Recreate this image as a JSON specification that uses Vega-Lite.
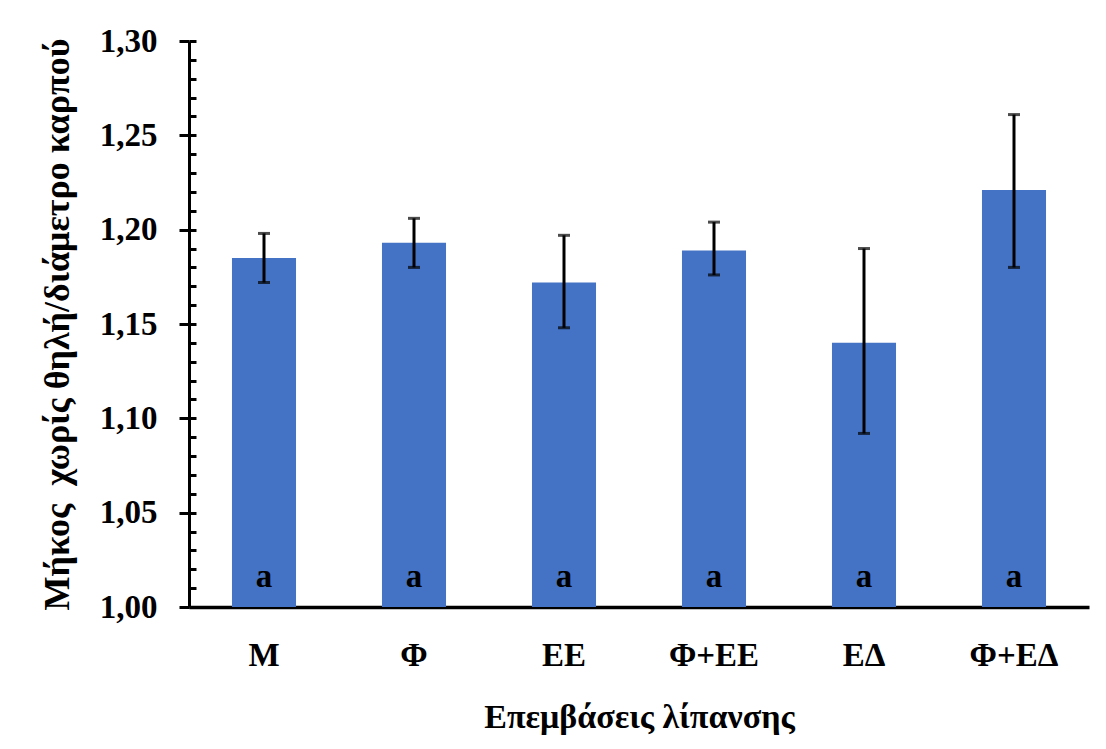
{
  "$schema": "https://vega.github.io/schema/vega-lite/v6.json",
  "width": 900,
  "height": 566,
  "autosize": {"type": "none"},
  "padding": {"left": 189, "top": 41, "right": 17, "bottom": 142},
  "background": "white",
  "config": {
    "view": {"stroke": null},
    "font": "Liberation Serif"
  },
  "data": {
    "values": [
      {"grp": "Μ", "mean": 1.185, "lo": 1.172, "hi": 1.198, "letter": "a"},
      {"grp": "Φ", "mean": 1.193, "lo": 1.180, "hi": 1.206, "letter": "a"},
      {"grp": "ΕΕ", "mean": 1.172, "lo": 1.148, "hi": 1.197, "letter": "a"},
      {"grp": "Φ+ΕΕ", "mean": 1.189, "lo": 1.176, "hi": 1.204, "letter": "a"},
      {"grp": "ΕΔ", "mean": 1.140, "lo": 1.092, "hi": 1.190, "letter": "a"},
      {"grp": "Φ+ΕΔ", "mean": 1.221, "lo": 1.180, "hi": 1.261, "letter": "a"}
    ]
  },
  "encoding": {
    "x": {
      "field": "grp",
      "type": "nominal",
      "sort": null,
      "scale": {"paddingInner": 0, "paddingOuter": 0},
      "axis": {
        "title": "Επεμβάσεις λίπανσης",
        "titleFont": "Liberation Serif",
        "titleFontSize": 34,
        "titleFontWeight": "bold",
        "titleColor": "black",
        "titlePadding": 28,
        "labelFont": "Liberation Serif",
        "labelFontSize": 33,
        "labelFontWeight": "bold",
        "labelColor": "black",
        "labelAngle": 0,
        "labelPadding": 32,
        "ticks": false,
        "domainColor": "black",
        "domainWidth": 3.5
      }
    }
  },
  "layer": [
    {
      "mark": {"type": "bar", "color": "#4472C4", "width": {"band": 0.427}},
      "encoding": {
        "y": {
          "field": "mean",
          "type": "quantitative",
          "title": "Μήκος \u00a0χωρίς θηλή/διάμετρο καρπού",
          "scale": {"domain": [1.0, 1.3], "nice": false, "zero": false},
          "axis": {
            "values": [1.00, 1.01, 1.02, 1.03, 1.04, 1.05, 1.06, 1.07, 1.08, 1.09, 1.10, 1.11, 1.12, 1.13, 1.14, 1.15, 1.16, 1.17, 1.18, 1.19, 1.20, 1.21, 1.22, 1.23, 1.24, 1.25, 1.26, 1.27, 1.28, 1.29, 1.30],
            "tickCount": 100,
            "labelExpr": "abs(datum.value * 20 - round(datum.value * 20)) < 0.001 ? replace(format(datum.value, '.2f'), '.', ',') : ''",
            "labelOverlap": false,
            "labelFont": "Liberation Serif",
            "labelFontSize": 33,
            "labelFontWeight": "bold",
            "labelColor": "black",
            "labelPadding": 22,
            "tickSize": 10,
            "tickWidth": 3,
            "tickColor": "black",
            "tickOpacity": {"condition": {"test": "abs(datum.value * 20 - round(datum.value * 20)) < 0.001", "value": 1}, "value": 0},
            "grid": true,
            "gridColor": "black",
            "gridWidth": 3,
            "gridDash": [7, 2000],
            "domainColor": "black",
            "domainWidth": 3,
            "titleFont": "Liberation Serif",
            "titleFontSize": 36,
            "titleFontWeight": "bold",
            "titleColor": "black",
            "titlePadding": 23
          }
        },
        "y2": {"datum": 1.0}
      }
    },
    {
      "mark": {
        "type": "errorbar",
        "color": "black",
        "rule": {"strokeWidth": 3},
        "ticks": {"size": 12, "thickness": 3, "color": "black"}
      },
      "encoding": {
        "y": {"field": "lo", "type": "quantitative", "title": "Μήκος \u00a0χωρίς θηλή/διάμετρο καρπού"},
        "y2": {"field": "hi"}
      }
    },
    {
      "mark": {
        "type": "text",
        "font": "Liberation Serif",
        "fontSize": 33,
        "fontWeight": "bold",
        "color": "black",
        "baseline": "alphabetic",
        "align": "center"
      },
      "encoding": {
        "y": {"datum": 1.0106, "type": "quantitative"},
        "text": {"field": "letter"}
      }
    }
  ]
}
